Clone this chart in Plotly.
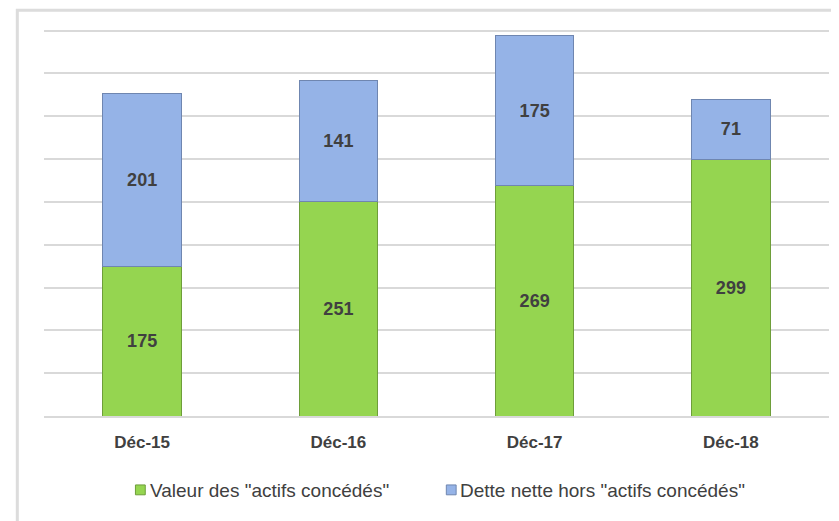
import plotly.graph_objects as go

# données
annees = ["Déc-15", "Déc-16", "Déc-17", "Déc-18"]
actifs_concedes = [175, 251, 269, 299]
dette_hors_actifs = [201, 141, 175, 71]
noms = ['Valeur des "actifs concédés"', 'Dette nette hors "actifs concédés"']

vert = "#95D550"
bleu = "#95B3E7"
texte = "#404040"

fig = go.Figure()

fig.add_trace(go.Bar(
    x=annees,
    y=actifs_concedes,
    name=noms[0],
    marker=dict(color=vert, line=dict(color="#6E9E3A", width=1)),
    text=actifs_concedes,
    textposition="inside",
    insidetextanchor="middle",
    textfont=dict(family="Liberation Sans", size=18, color=texte, weight="bold"),
))

fig.add_trace(go.Bar(
    x=annees,
    y=dette_hors_actifs,
    name=noms[1],
    marker=dict(color=bleu, line=dict(color="#6F86B0", width=1)),
    text=dette_hors_actifs,
    textposition="inside",
    insidetextanchor="middle",
    textfont=dict(family="Liberation Sans", size=18, color=texte, weight="bold"),
))

# cadre gris autour du graphique
fig.add_shape(
    type="rect", xref="paper", yref="paper",
    x0=-0.034, x1=1.05, y0=-0.3, y1=1.03,
    line=dict(color="#DCDCDC", width=3),
    layer="below",
)

# légende faite à la main (petits carrés + texte), comme dans Excel
legende = [(0.1165, 0.1325, vert, "#6E9E3A"), (0.5125, 0.527, bleu, "#6F86B0")]
for (xc, xt, couleur, bord), nom in zip(legende, noms):
    fig.add_shape(
        type="rect", xref="paper", yref="paper",
        x0=xc, x1=xc + 0.0125, y0=-0.175, y1=-0.2,
        fillcolor=couleur, line=dict(color=bord, width=1),
    )
    fig.add_annotation(
        xref="paper", yref="paper", x=xt, y=-0.188,
        text=nom, showarrow=False, xanchor="left", yanchor="middle",
        font=dict(family="Liberation Sans", size=19, color=texte),
    )

# la page ajoute une marge de 8 px : on la compense
fig.update_layout(
    barmode="stack",
    bargap=0.6,
    width=831,
    height=513,
    margin=dict(l=36, r=10, t=14, b=105, autoexpand=False),
    plot_bgcolor="white",
    paper_bgcolor="white",
    font=dict(family="Liberation Sans", color=texte),
    showlegend=False,
    xaxis=dict(
        showline=True,
        linecolor="#D9D9D9",
        linewidth=2,
        tickfont=dict(family="Liberation Sans", size=17, color=texte, weight="bold"),
        ticks="",
        ticklabelstandoff=10,
    ),
    yaxis=dict(
        range=[0, 460],
        dtick=50,
        showticklabels=False,
        showgrid=True,
        gridcolor="#D9D9D9",
        gridwidth=2,
        zeroline=False,
    ),
)

fig.write_html("out.html")
